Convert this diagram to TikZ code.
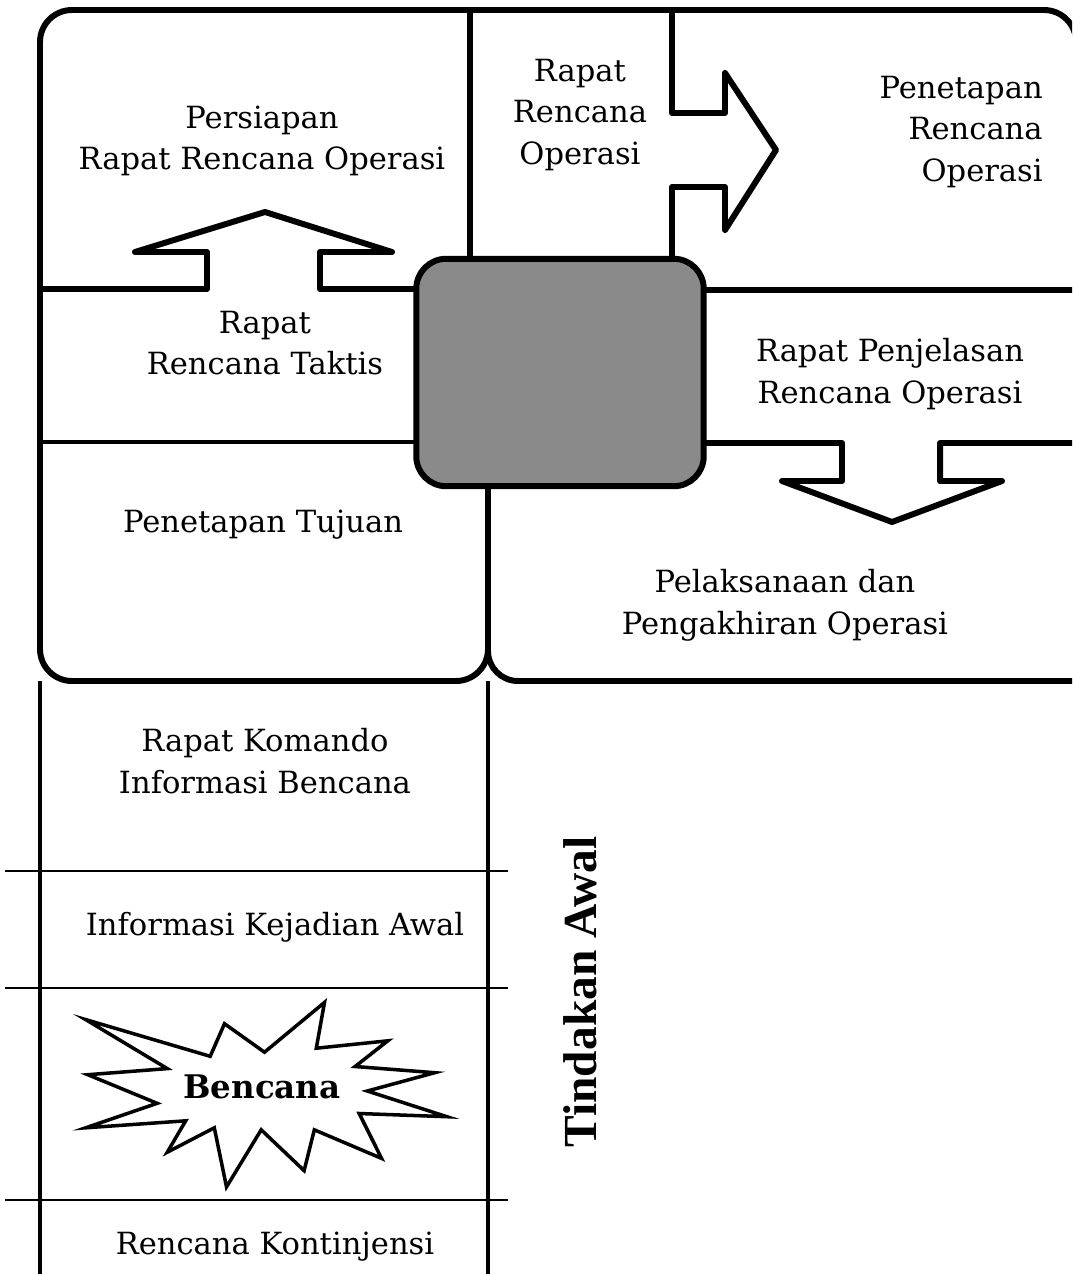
\documentclass[tikz,border=0pt]{standalone}
\usepackage{fontspec}
\setmainfont{DejaVu Serif}
\newfontfamily\headfont{Liberation Serif}
\begin{document}
\begin{tikzpicture}[x=0.02cm, y=-0.02cm,
    frame/.style = {line width=3.4pt, line join=round},
    inner/.style = {line width=2.8pt},
    rule/.style  = {line width=1.4pt},
    lbl/.style   = {align=center, inner sep=0pt,
                    font=\fontsize{17.4}{23.8}\selectfont},
    hub/.style   = {draw, line width=3.4pt, fill=black!46,
                    rounded corners=0.6cm, minimum width=5.75cm,
                    minimum height=4.55cm},  ]

    \clip (0,0) rectangle (1072,1274);

    % frame of the panels
    \draw[frame, rounded corners=0.64cm]
        (488,487) -- (488,681) -- (40,681) -- (40,10) -- (1076,10) -- (1076,720);
    \draw[frame, rounded corners=0.6cm] (488,600) -- (488,681) -- (1076,681);
    \draw[frame] (470,10) -- (470,262);
    \draw[frame] (705,290) -- (1076,290);

    % block arrows
    \draw[frame] (40,289) -- (207,289) -- (207,252) -- (135,252) -- (265,212)
        -- (392,252) -- (320,252) -- (320,289) -- (420,289);
    \draw[frame] (672,10) -- (672,113) -- (725,113) -- (725,73) -- (776,150)
        -- (725,230) -- (725,187) -- (672,187) -- (672,262);
    \draw[frame] (700,443) -- (842,443) -- (842,481) -- (782,481) -- (892,522)
        -- (1002,481) -- (940,481) -- (940,443) -- (1076,443);
    \draw[inner] (40,442) -- (420,442);

    % lower column
    \begin{scope}[rule]
      \draw[line width=2.2pt] (40,681) -- (40,1274) (488,681) -- (488,1274);
      \foreach \y in {871,988,1200}
        \draw (5,\y) -- (508,\y);
    \end{scope}

    \node[hub] (hub) at (560,372.5) {};

    % starburst
    \draw[line width=2pt, line join=miter, fill=white]
        (85.7,1019.6) -- (210.2,1056.3) -- (224.5,1023.7) -- (264.5,1052.2)
        -- (324.5,1002.4) -- (316.3,1048.2) -- (387.8,1040.8) -- (355.1,1066.5)
        -- (434.7,1072.7) -- (367.3,1091.0) -- (446.9,1116.7) -- (359.2,1113.5)
        -- (381.6,1158.4) -- (314.3,1129.8) -- (304.1,1170.6) -- (261.2,1129.8)
        -- (226.5,1186.9) -- (214.3,1127.8) -- (167.3,1152.2) -- (185.7,1120.8)
        -- (85.7,1127.8) -- (157.1,1103.3) -- (87.8,1074.7) -- (167.3,1068.6)
        -- cycle;

    % texts
    \node[lbl] (persiapan)   at (262,141) {Persiapan\\Rapat Rencana Operasi};
    \node[lbl] (rapat-ro)    at (580,115) {Rapat\\Rencana\\Operasi};
    \node[lbl, anchor=east, align=right] (penetapan-ro) at (1043,132)
        {Penetapan\\Rencana\\Operasi};
    \node[lbl] (taktis)      at (265,343) {Rapat\\Rencana Taktis};
    \node[lbl] (penjelasan)  at (890,374) {Rapat Penjelasan\\Rencana Operasi};
    \node[lbl] (tujuan)      at (263,525) {Penetapan Tujuan};
    \node[lbl] (pelaksanaan) at (785,605) {Pelaksanaan dan\\Pengakhiran Operasi};
    \node[lbl] (komando)     at (265,761) {Rapat Komando\\Informasi Bencana};
    \node[lbl] (kejadian)    at (275,927) {Informasi Kejadian Awal};
    \node[lbl] (kontinjensi) at (275,1247) {Rencana Kontinjensi};
    \node[inner sep=0pt, font=\bfseries\fontsize{18.5}{22}\selectfont]
        (bencana) at (262,1087) {Bencana};
    \node[inner sep=0pt, rotate=90, font=\headfont\bfseries\fontsize{27}{30}\selectfont]
        (tindakan) at (580,992) {Tindakan Awal};

\end{tikzpicture}
\end{document}
